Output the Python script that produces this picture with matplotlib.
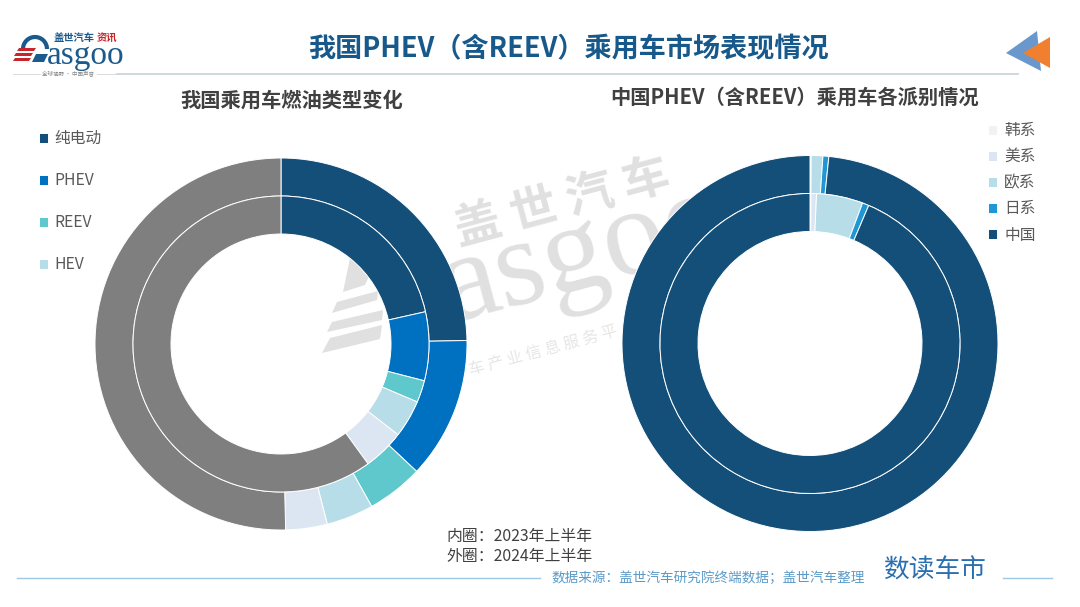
import matplotlib
matplotlib.use('Agg')
import matplotlib.pyplot as plt
from matplotlib.patches import Polygon, Arc

plt.rcParams['font.family'] = ['Noto Sans CJK SC', 'DejaVu Sans']

W, H = 1080, 607

# 数据 (%)
fuel_labels = ['纯电动', 'PHEV', 'REEV', 'HEV', '其他混动', '燃油']
fuel_2024 = [24.7, 12.3, 4.9, 4.1, 3.6, 50.4]
fuel_2023 = [21.5, 7.5, 2.4, 4.1, 4.5, 60.0]
fuel_colors = ['#134f78', '#0070c0', '#5fc8cc', '#b6dde8', '#dce6f2', '#7f7f7f']

origin_labels = ['韩系', '美系', '欧系', '日系', '中国']
origin_2024 = [0.0, 0.1, 1.0, 0.5, 98.4]
origin_2023 = [0.1, 0.6, 5.0, 0.7, 93.6]
origin_colors = ['#f2f2f2', '#dce6f2', '#b6dde8', '#1f97d4', '#134f78']

fig = plt.figure(figsize=(W / 100, H / 100), dpi=100, facecolor='white')

# 背景层, 像素坐标
bg = fig.add_axes([0, 0, 1, 1])
bg.set_xlim(0, W)
bg.set_ylim(H, 0)
bg.axis('off')

# 水印
wm = '#e0e0e0'
for pts in [[(322, 353), (330, 338), (382, 325), (380, 339)],
            [(327, 332), (332, 322), (383, 310), (382, 320)],
            [(332, 313), (337, 302), (378, 291), (377, 300)],
            [(343, 292), (350, 258), (372, 270), (365, 285)]]:
    bg.add_patch(Polygon(pts, closed=True, color=wm, lw=0))
bg.text(562, 203, '盖 世 汽 车', fontsize=34, fontweight='bold', color=wm, rotation=15,
        ha='center', va='center', rotation_mode='anchor')
bg.text(452, 322, 'asgoo', fontsize=90, family='Liberation Serif', color=wm, rotation=15,
        ha='left', va='baseline', rotation_mode='anchor')
bg.text(543, 351, '车 产 业 信 息 服 务 平', fontsize=11.5, color='#e6e6e6', rotation=15,
        ha='center', va='center', rotation_mode='anchor')

# 页眉
bg.text(568, 49, '我国PHEV（含REEV）乘用车市场表现情况', fontsize=19.5, fontweight='bold',
        color='#17598a', ha='center', va='center')
bg.plot([117, 1018], [73.5, 73.5], color='#c8d8de', lw=1.3)
bg.plot([13, 40], [73.5, 73.5], color='#d5d5d5', lw=0.6)
bg.plot([97, 117], [73.5, 73.5], color='#d5d5d5', lw=0.6)
bg.text(68.5, 73.5, '全球视野 · 中国声音', fontsize=4, color='#888888', ha='center', va='center')

# logo
bg.text(47, 64, 'asgoo', fontsize=24, family='Liberation Serif', color='#1a5a8c',
        ha='left', va='baseline')
bg.text(54, 38, '盖世汽车', fontsize=7.4, fontweight='bold', color='#1a5a8c', ha='left', va='center')
bg.text(97, 38, '资讯', fontsize=7.4, fontweight='bold', color='#c8242c', ha='left', va='center')
bg.add_patch(Arc((35, 49), 24, 24, theta1=180, theta2=360, color='#1a5a8c', lw=3))
bg.add_patch(Polygon([(36, 54), (48, 54), (44, 62), (32, 62)], closed=True, color='#1a5a8c', lw=0))
for pts in [[(19, 48), (36, 48), (34, 51), (17, 51)],
            [(16, 53), (33, 53), (31, 56), (14, 56)],
            [(15, 58), (31, 58), (29, 61), (13, 61)]]:
    bg.add_patch(Polygon(pts, closed=True, color='#c8242c', lw=0))

# 右上角三角
bg.add_patch(Polygon([(1006, 53), (1037, 31), (1041, 71)], closed=True, color='#6a98cc', lw=0))
bg.add_patch(Polygon([(1023, 53), (1050, 37), (1050, 68)], closed=True, color='#f08030', lw=0))

# 小标题
bg.text(292, 100, '我国乘用车燃油类型变化', fontsize=14.6, fontweight='bold', color='#404040',
        ha='center', va='center')
bg.text(795, 97, '中国PHEV（含REEV）乘用车各派别情况', fontsize=14.6, fontweight='bold', color='#404040',
        ha='center', va='center')

# 页脚
bg.text(446, 537, '内圈：2023年上半年', fontsize=11.4, color='#404040', ha='left', va='center')
bg.text(446, 556, '外圈：2024年上半年', fontsize=11.4, color='#404040', ha='left', va='center')
bg.plot([17, 540], [578, 578], color='#9cc8e4', lw=1)
bg.plot([1003, 1052], [578, 578], color='#9cc8e4', lw=1)
bg.text(551, 578, '数据来源：盖世汽车研究院终端数据；盖世汽车整理', fontsize=9.8, color='#5b9ac8',
        ha='left', va='center')
bg.text(935, 571, '数读车市', fontsize=18.5, fontweight='medium', color='#2a6fb0', ha='center', va='center')


def donut(cx, cy, r_out, r_mid, r_in, outer, inner, colors):
    # 一个轴放两圈, 轴的大小按外圈半径算
    pad = 1.02
    s = r_out * pad
    ax = fig.add_axes([(cx - s) / W, 1 - (cy + s) / H, 2 * s / W, 2 * s / H])
    ax.patch.set_alpha(0)
    w1, _ = ax.pie(outer, colors=colors, radius=1, startangle=90, counterclock=False,
                   wedgeprops=dict(width=(r_out - r_mid) / r_out, edgecolor='white', linewidth=0.7))
    ax.pie(inner, colors=colors, radius=r_mid / r_out, startangle=90, counterclock=False,
           wedgeprops=dict(width=(r_mid - r_in) / r_out, edgecolor='white', linewidth=0.7))
    ax.set_xlim(-pad, pad)
    ax.set_ylim(-pad, pad)
    ax.set_aspect('equal')
    return w1


w_left = donut(281, 344, 186, 148, 110, fuel_2024, fuel_2023, fuel_colors)
w_right = donut(810, 343.5, 188, 150, 112, origin_2024, origin_2023, origin_colors)

# 图例
fig.legend(w_left[:4], fuel_labels[:4], loc='upper left', bbox_to_anchor=(24.5 / W, 1 - 116 / H),
           frameon=False, fontsize=11.3, labelcolor='#595959', labelspacing=1.6,
           handlelength=0.6, handleheight=0.6, handletextpad=0.38, borderpad=0.4)
fig.legend(w_right, origin_labels, loc='upper left', bbox_to_anchor=(973.5 / W, 1 - 108 / H),
           frameon=False, fontsize=11.3, labelcolor='#595959', labelspacing=0.58,
           handlelength=0.6, handleheight=0.6, handletextpad=0.45, borderpad=0.4)

fig.savefig('out.png', dpi=100)
